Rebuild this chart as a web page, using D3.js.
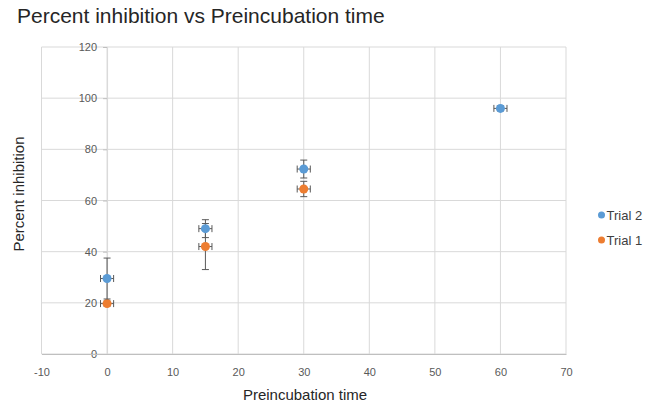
<!DOCTYPE html>
<html><head><meta charset="utf-8">
<script src="https://cdn.jsdelivr.net/npm/d3@7"></script>
<style>body{margin:0;background:#fff;}svg{display:block;font-family:"Liberation Sans",Arial,sans-serif;}</style>
</head><body>
<script>
const xTicks = [-10,0,10,20,30,40,50,60,70];
const yTicks = [0,20,40,60,80,100,120];
const seriesNames = ["Trial 2","Trial 1"];
const seriesColors = ["#5B9BD5","#ED7D31"];
const trial2X = [0,15,30,60];
const trial2Y = [29.5,49,72.3,96];
const trial2ErrY = [8,3.5,3.5,1];
const trial1X = [0,15,30];
const trial1Y = [19.7,42,64.5];
const trial1ErrY = [1,9,3];
const errX = 1;

const W=659,H=407;
const svg=d3.select("body").append("svg").attr("width",W).attr("height",H);
const x=d3.scaleLinear().domain([-10,70]).range([41.5,566]);
const y=d3.scaleLinear().domain([0,120]).range([354,47]);

// gridlines
svg.append("g").selectAll("line").data(yTicks).join("line")
 .attr("x1",x(-10)).attr("x2",x(70)).attr("y1",d=>y(d)).attr("y2",d=>y(d))
 .attr("stroke","#d9d9d9").attr("stroke-width",1);
svg.append("g").selectAll("line").data(xTicks).join("line")
 .attr("x1",d=>x(d)).attr("x2",d=>x(d)).attr("y1",y(0)).attr("y2",y(120))
 .attr("stroke","#d9d9d9").attr("stroke-width",1);

// y axis at x=0
const yAxis=d3.axisLeft(y).tickValues(yTicks).tickSize(4).tickPadding(6).tickFormat(d=>String(d));
const gy=svg.append("g").attr("transform",`translate(${x(0)},0)`).call(yAxis);
gy.select(".domain").attr("stroke","#d9d9d9");
gy.selectAll(".tick line").attr("stroke","#bfbfbf");
gy.selectAll("text").attr("fill","#595959").style("font-size","11px").style("font-family","Liberation Sans, Arial, sans-serif");

// x axis bottom
const xAxis=d3.axisBottom(x).tickValues(xTicks).tickSize(0).tickPadding(14).tickFormat(d=>String(d));
const gx=svg.append("g").attr("transform",`translate(0,${y(0)})`).call(xAxis);
gx.select(".domain").attr("stroke","#bfbfbf");
gx.selectAll("text").attr("fill","#595959").style("font-size","11px").style("font-family","Liberation Sans, Arial, sans-serif");

function drawSeries(xs,ys,es,color){
 const data=xs.map((d,i)=>({x:d,y:ys[i],e:es[i]}));
 const g=svg.append("g");
 const ec="#595959";
 g.selectAll(".v").data(data).join("line").attr("x1",d=>x(d.x)).attr("x2",d=>x(d.x))
  .attr("y1",d=>y(d.y-d.e)).attr("y2",d=>y(d.y+d.e)).attr("stroke",ec).attr("stroke-width",1);
 g.selectAll(".vc1").data(data).join("line").attr("x1",d=>x(d.x)-3.5).attr("x2",d=>x(d.x)+3.5)
  .attr("y1",d=>y(d.y-d.e)).attr("y2",d=>y(d.y-d.e)).attr("stroke",ec);
 g.selectAll(".vc2").data(data).join("line").attr("x1",d=>x(d.x)-3.5).attr("x2",d=>x(d.x)+3.5)
  .attr("y1",d=>y(d.y+d.e)).attr("y2",d=>y(d.y+d.e)).attr("stroke",ec);
 g.selectAll(".h").data(data).join("line").attr("x1",d=>x(d.x-errX)).attr("x2",d=>x(d.x+errX))
  .attr("y1",d=>y(d.y)).attr("y2",d=>y(d.y)).attr("stroke",ec);
 g.selectAll(".hc1").data(data).join("line").attr("x1",d=>x(d.x-errX)).attr("x2",d=>x(d.x-errX))
  .attr("y1",d=>y(d.y)-3.5).attr("y2",d=>y(d.y)+3.5).attr("stroke",ec);
 g.selectAll(".hc2").data(data).join("line").attr("x1",d=>x(d.x+errX)).attr("x2",d=>x(d.x+errX))
  .attr("y1",d=>y(d.y)-3.5).attr("y2",d=>y(d.y)+3.5).attr("stroke",ec);
 g.selectAll("circle").data(data).join("circle").attr("cx",d=>x(d.x)).attr("cy",d=>y(d.y))
  .attr("r",4.5).attr("fill",color);
}
drawSeries(trial1X,trial1Y,trial1ErrY,seriesColors[1]);
drawSeries(trial2X,trial2Y,trial2ErrY,seriesColors[0]);

// title
svg.append("text").attr("x",17).attr("y",23).text("Percent inhibition vs Preincubation time")
 .attr("fill","#262626").style("font-size","21px");
// axis titles
svg.append("text").attr("x",305).attr("y",400).attr("text-anchor","middle")
 .text("Preincubation time").attr("fill","#262626").style("font-size","15px");
svg.append("text").attr("transform",`translate(24,194) rotate(-90)`).attr("text-anchor","middle")
 .text("Percent inhibition").attr("fill","#262626").style("font-size","15px");

// legend
const leg=svg.append("g").selectAll("g").data(seriesNames).join("g")
 .attr("transform",(d,i)=>`translate(601.5,${215+i*25})`);
leg.append("circle").attr("r",3.5).attr("fill",(d,i)=>seriesColors[i]);
leg.append("text").attr("x",5).attr("y",4.5).text(d=>d).attr("fill","#404040").style("font-size","13px");
</script>
</body></html>
